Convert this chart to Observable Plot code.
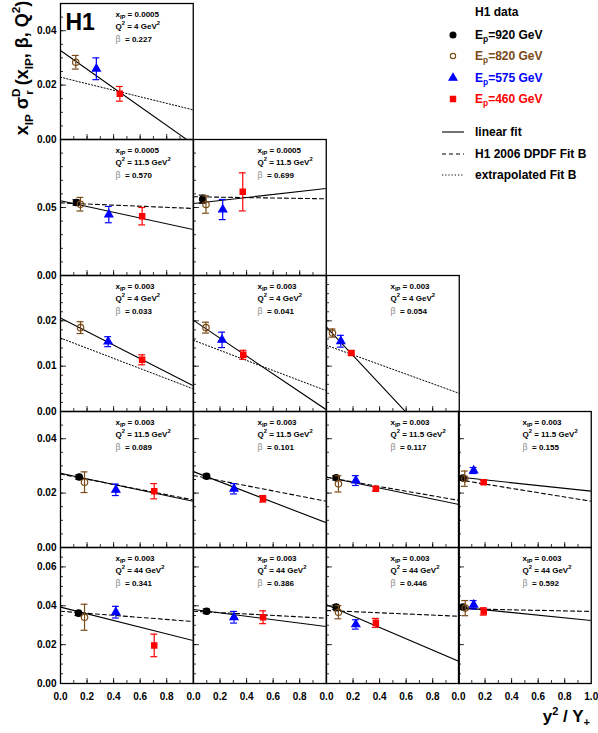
<!DOCTYPE html>
<html><head><meta charset="utf-8">
<script src="https://cdn.jsdelivr.net/npm/d3@7"></script>
<script src="https://cdn.jsdelivr.net/npm/@observablehq/plot@0.6"></script>
<style>
body{margin:0;background:#fff;font-family:"Liberation Sans",Arial,Helvetica,sans-serif;}
#chart{position:relative;width:598px;height:733px;overflow:hidden;background:#fff;}
.lg{position:absolute;font-size:12px;font-weight:bold;white-space:nowrap;line-height:1;transform:translateY(-50%);}
.lg sub{font-size:70%;vertical-align:-0.35em;line-height:0;}
#ytitle{position:absolute;left:22px;top:68px;transform:translate(-50%,-50%) rotate(-90deg);font-size:18px;font-weight:bold;white-space:nowrap;line-height:1;}
#ytitle sub{font-size:65%;vertical-align:-0.4em;line-height:0;}
#ytitle sup{font-size:65%;vertical-align:0.65em;line-height:0;}
#xtitle{position:absolute;right:8px;top:708px;font-size:17px;font-weight:bold;white-space:nowrap;line-height:1;}
#xtitle sub{font-size:65%;vertical-align:-0.4em;line-height:0;}
#xtitle sup{font-size:65%;vertical-align:0.6em;line-height:0;}
</style></head><body><div id="chart"></div>
<script>
// ---------------- data ----------------
const rowXip = ["0.0005", "0.0005", "0.003", "0.003", "0.003"];
const rowQ2 = ["4", "11.5", "4", "11.5", "44"];
const rowYMax = [0.05, 0.1, 0.03, 0.05, 0.07];
const rowMajorTicks = [[0, 0.02, 0.04], [0, 0.05], [0, 0.01, 0.02], [0, 0.02, 0.04], [0, 0.02, 0.04, 0.06]];
const rowMinorStep = [0.005, 0.01, 0.002, 0.005, 0.005];
const panelRow = [0, 1, 1, 2, 2, 2, 3, 3, 3, 3, 4, 4, 4, 4];
const panelCol = [0, 0, 1, 0, 1, 2, 0, 1, 2, 3, 0, 1, 2, 3];
const panelBeta = ["0.227", "0.570", "0.699", "0.033", "0.041", "0.054", "0.089", "0.101", "0.117", "0.155", "0.341", "0.386", "0.446", "0.592"];
const xTickLabels = [0, 0.2, 0.4, 0.6, 0.8];
const xTickLabelsLast = [0, 0.2, 0.4, 0.6, 0.8, 1.0];
const energies = [920, 820, 575, 460];
const energyColor = ["#000000", "#7a4a16", "#0000ff", "#ff0000"];
const energyFill = ["#000000", "none", "#0000ff", "#ff0000"];
const energySymbol = ["circle", "circle", "triangle", "square"];
// [panel, Ep, y^2/Y+, value, total error]
const points = [
  [0, 820, 0.115, 0.0284, 0.0025], [0, 575, 0.27, 0.026, 0.004], [0, 460, 0.447, 0.0168, 0.0027],
  [1, 920, 0.12, 0.0537, 0.002], [1, 820, 0.15, 0.0524, 0.005], [1, 575, 0.364, 0.0448, 0.006], [1, 460, 0.615, 0.0436, 0.0064],
  [2, 920, 0.069, 0.0561, 0.003], [2, 820, 0.094, 0.0522, 0.0064], [2, 575, 0.22, 0.0485, 0.0074], [2, 460, 0.371, 0.0615, 0.014],
  [3, 820, 0.151, 0.0185, 0.0013], [3, 575, 0.359, 0.0154, 0.0011], [3, 460, 0.615, 0.0114, 0.0011],
  [4, 820, 0.094, 0.0185, 0.0012], [4, 575, 0.215, 0.0158, 0.0017], [4, 460, 0.375, 0.0125, 0.001],
  [5, 820, 0.045, 0.0173, 0.0009], [5, 575, 0.108, 0.0155, 0.0013], [5, 460, 0.188, 0.0129, 0.0005],
  [6, 920, 0.141, 0.0259, 0.0008], [6, 820, 0.181, 0.024, 0.0038], [6, 575, 0.417, 0.0212, 0.0021], [6, 460, 0.706, 0.0207, 0.0028],
  [7, 920, 0.099, 0.0262, 0.0008], [7, 575, 0.305, 0.0216, 0.0019], [7, 460, 0.524, 0.0179, 0.0012],
  [8, 920, 0.073, 0.0256, 0.0008], [8, 820, 0.09, 0.0234, 0.003], [8, 575, 0.221, 0.0246, 0.0018], [8, 460, 0.372, 0.0216, 0.0008],
  [9, 920, 0.034, 0.0255, 0.0008], [9, 820, 0.047, 0.0253, 0.0028], [9, 575, 0.114, 0.0283, 0.0011], [9, 460, 0.19, 0.024, 0.0007],
  [10, 920, 0.136, 0.0362, 0.0012], [10, 820, 0.181, 0.0341, 0.0067], [10, 575, 0.417, 0.0367, 0.003], [10, 460, 0.706, 0.0196, 0.0058],
  [11, 920, 0.099, 0.0372, 0.0012], [11, 575, 0.305, 0.0341, 0.003], [11, 460, 0.524, 0.0341, 0.0033],
  [12, 920, 0.073, 0.0393, 0.0012], [12, 820, 0.09, 0.0367, 0.0034], [12, 575, 0.221, 0.0304, 0.0024], [12, 460, 0.372, 0.0312, 0.0023],
  [13, 920, 0.034, 0.0393, 0.0012], [13, 820, 0.051, 0.0388, 0.0039], [13, 575, 0.114, 0.0405, 0.0022], [13, 460, 0.19, 0.0371, 0.0019]
];
// [panel, kind, value at y^2/Y+ = 0, value at y^2/Y+ = 1]
const fitLines = [
  [0, "linear", 0.0327, -0.0017], [0, "extrap", 0.0229, 0.0109],
  [1, "linear", 0.0549, 0.0338], [1, "fitB", 0.0534, 0.0493],
  [2, "linear", 0.0529, 0.064], [2, "fitB", 0.0579, 0.0564],
  [3, "linear", 0.0206, 0.0057], [3, "extrap", 0.0162, 0.005],
  [4, "linear", 0.0201, 0.0004], [4, "extrap", 0.0157, 0.0046],
  [5, "linear", 0.0186, -0.0127], [5, "extrap", 0.0146, 0.004],
  [6, "linear", 0.0273, 0.017], [6, "fitB", 0.027, 0.0175],
  [7, "linear", 0.0279, 0.0091], [7, "fitB", 0.0265, 0.017],
  [8, "linear", 0.0259, 0.0158], [8, "fitB", 0.0258, 0.0173],
  [9, "linear", 0.0259, 0.0207], [9, "fitB", 0.0249, 0.017],
  [10, "linear", 0.0393, 0.0221], [10, "fitB", 0.0372, 0.0319],
  [11, "linear", 0.0381, 0.0293], [11, "fitB", 0.0372, 0.0336],
  [12, "linear", 0.0405, 0.0113], [12, "fitB", 0.0376, 0.0346],
  [13, "linear", 0.0393, 0.0324], [13, "fitB", 0.0385, 0.0371]
];
const lineKinds = ["linear", "fitB", "extrap"];
const lineDash = [null, "4,3", "1.2,2"];
const legendLabels = ["linear fit", "H1 2006 DPDF Fit B", "extrapolated Fit B"];

// ---------------- layout ----------------
const FONT = '"Liberation Sans", Arial, Helvetica, sans-serif';
const L0 = 60, PW = 132.75, T0 = 3, PH = 136;
const chart = document.getElementById("chart");

function richify(svg) {
  const NS = "http://www.w3.org/2000/svg";
  svg.querySelectorAll("text").forEach(t => {
    const s = t.textContent;
    if (!/[_^]\{|β/.test(s)) return;
    const fs = parseFloat(getComputedStyle(t).fontSize) || 8;
    t.textContent = "";
    let shift = 0;
    s.split(/(_\{[^}]*\}|\^\{[^}]*\}|β)/).filter(x => x !== "").forEach(part => {
      const ts = document.createElementNS(NS, "tspan");
      let target = 0, txt = part;
      if (part.startsWith("_{")) { target = fs * 0.3; txt = part.slice(2, -1); ts.setAttribute("font-size", fs * 0.72); }
      else if (part.startsWith("^{")) { target = -fs * 0.45; txt = part.slice(2, -1); ts.setAttribute("font-size", fs * 0.72); }
      else if (part === "β") { ts.setAttribute("fill", "#8a8a8a"); ts.setAttribute("font-weight", "normal"); ts.setAttribute("font-size", fs * 1.1); }
      ts.setAttribute("dy", target - shift);
      shift = target;
      ts.textContent = txt;
      t.appendChild(ts);
    });
  });
}

panelRow.forEach((r, p) => {
  const c = panelCol[p];
  const bottom = r === 4;
  const ml = c === 0 ? 60 : 0;
  const mb = bottom ? 24 : 0;
  const mr = (c === 3) ? 8 : 0;
  const pts = points.filter(d => d[0] === p);
  const yMax = rowYMax[r];
  const minor = d3.range(0, yMax + 1e-9, rowMinorStep[r]);
  const major = d3.range(0, yMax + 1e-9, rowMajorTicks[r][1]);
  const marks = [
    Plot.tickY(minor, {y: d => d, insetRight: PW - 3, stroke: "#000", strokeWidth: 0.8}),
    Plot.tickY(major, {y: d => d, insetRight: PW - 6, stroke: "#000", strokeWidth: 0.8}),
    Plot.tickX(d3.range(0.1, 1, 0.1), {x: d => d, insetTop: PH - 3, stroke: "#000", strokeWidth: 0.8}),
    Plot.tickX(d3.range(0.2, 1, 0.2), {x: d => d, insetTop: PH - 5, stroke: "#000", strokeWidth: 0.8})
  ];
  lineKinds.forEach((k, i) => {
    const segs = fitLines.filter(d => d[0] === p && d[1] === k).flatMap(d => [{x: 0, y: d[2]}, {x: 1, y: d[3]}]);
    if (segs.length) marks.push(Plot.line(segs, {x: "x", y: "y", stroke: "#000", strokeWidth: i === 2 ? 1 : 1.1, strokeDasharray: lineDash[i], clip: true}));
  });
  energies.forEach((e, i) => {
    const ep = pts.filter(d => d[1] === e);
    if (!ep.length) return;
    const caps = ep.flatMap(d => [{x: d[2], y: d[3] - d[4]}, {x: d[2], y: d[3] + d[4]}]);
    marks.push(
      Plot.ruleX(ep, {x: d => d[2], y1: d => d[3] - d[4], y2: d => d[3] + d[4], stroke: energyColor[i], strokeWidth: 1.2}),
      Plot.ruleY(caps, {y: "y", x1: d => d.x - 0.026, x2: d => d.x + 0.026, stroke: energyColor[i], strokeWidth: 1.2}),
      Plot.dot(ep, {x: d => d[2], y: d => d[3], symbol: energySymbol[i], r: energySymbol[i] === "circle" ? 3.2 : 3.0,
        fill: energyFill[i], stroke: energyColor[i], strokeWidth: 1.2})
    );
  });
  marks.push(Plot.frame({stroke: "#000", strokeWidth: 1.3}));
  const dxText = c === 0 ? 55 : 64;
  marks.push(
    Plot.text([`x_{IP} = ${rowXip[r]}`], {text: d => d, frameAnchor: "top-left", dx: dxText, dy: 11, lineAnchor: "middle", fontSize: 8, fontWeight: "bold"}),
    Plot.text([`Q^{2} = ${rowQ2[r]} GeV^{2}`], {text: d => d, frameAnchor: "top-left", dx: dxText, dy: 23, lineAnchor: "middle", fontSize: 8, fontWeight: "bold"}),
    Plot.text([`β  = ${panelBeta[p]}`], {text: d => d, frameAnchor: "top-left", dx: dxText, dy: 36, lineAnchor: "middle", fontSize: 8, fontWeight: "bold"})
  );
  if (p === 0) {
    marks.push(Plot.text(["H1"], {text: d => d, frameAnchor: "top-left", dx: 5, dy: 19, lineAnchor: "middle", fontSize: 23, fontWeight: "bold"}));
  }
  if (c === 0) {
    marks.push(Plot.axisY({ticks: rowMajorTicks[r], tickSize: 0, tickPadding: 4, tickFormat: d3.format(".2f"), fontSize: 10, fontWeight: "bold", label: null}));
  }
  if (bottom) {
    marks.push(Plot.axisX({ticks: c === 3 ? xTickLabelsLast : xTickLabels, tickSize: 0, tickPadding: 9, tickFormat: d3.format(".1f"), fontSize: 10, fontWeight: "bold", label: null}));
  }
  const svg = Plot.plot({
    width: ml + PW + mr, height: PH + mb,
    marginLeft: ml, marginRight: mr, marginTop: 0, marginBottom: mb,
    x: {domain: [0, 1], axis: null},
    y: {domain: [0, yMax], axis: null},
    style: {background: "transparent", overflow: "visible", maxWidth: "none", fontFamily: FONT},
    marks
  });
  svg.style.position = "absolute";
  svg.style.left = (L0 + c * PW - ml) + "px";
  svg.style.top = (T0 + r * PH) + "px";
  chart.appendChild(svg);
  richify(svg);
});

// titles
const yt = document.createElement("div");
yt.id = "ytitle";
yt.innerHTML = 'x<sub>IP</sub> σ<sup>D</sup><sub style="margin-left:-0.55em">r</sub> (x<sub>IP</sub>, β, Q<sup>2</sup>)';
chart.appendChild(yt);
const xt = document.createElement("div");
xt.id = "xtitle";
xt.innerHTML = 'y<sup>2</sup> / Y<sub>+</sub>';
chart.appendChild(xt);

// legend
function addLegend(html, x, y, color) {
  const d = document.createElement("div");
  d.className = "lg";
  d.style.left = x + "px";
  d.style.top = y + "px";
  d.style.color = color || "#000";
  d.innerHTML = html;
  chart.appendChild(d);
}
addLegend("H1 data", 475, 12);
const legY = [35, 56, 78, 99];
energies.forEach((e, i) => {
  addLegend(`E<sub>p</sub>=${e} GeV`, 475, legY[i], energyColor[i] === "#000000" ? "#000" : energyColor[i]);
  const s = document.createElementNS("http://www.w3.org/2000/svg", "svg");
  s.setAttribute("width", 12); s.setAttribute("height", 12);
  s.style.position = "absolute"; s.style.left = "447px"; s.style.top = (legY[i] - 6) + "px";
  const sym = {circle: d3.symbolCircle, triangle: d3.symbolTriangle, square: d3.symbolSquare}[energySymbol[i]];
  const path = document.createElementNS("http://www.w3.org/2000/svg", "path");
  path.setAttribute("d", d3.symbol(sym, i === 1 ? 22 : 28)());
  path.setAttribute("transform", "translate(6,6)");
  path.setAttribute("fill", energyFill[i]);
  path.setAttribute("stroke", energyColor[i]);
  path.setAttribute("stroke-width", 1.1);
  s.appendChild(path);
  chart.appendChild(s);
});
const legLineY = [132, 154, 175];
lineKinds.forEach((k, i) => {
  addLegend(legendLabels[i], 475, legLineY[i]);
  const s = document.createElementNS("http://www.w3.org/2000/svg", "svg");
  s.setAttribute("width", 24); s.setAttribute("height", 6);
  s.style.position = "absolute"; s.style.left = "441px"; s.style.top = (legLineY[i] - 3) + "px";
  const ln = document.createElementNS("http://www.w3.org/2000/svg", "line");
  ln.setAttribute("x1", 1); ln.setAttribute("x2", 23); ln.setAttribute("y1", 3); ln.setAttribute("y2", 3);
  ln.setAttribute("stroke", "#000"); ln.setAttribute("stroke-width", 1.1);
  if (lineDash[i]) ln.setAttribute("stroke-dasharray", lineDash[i]);
  s.appendChild(ln);
  chart.appendChild(s);
});
</script></body></html>
